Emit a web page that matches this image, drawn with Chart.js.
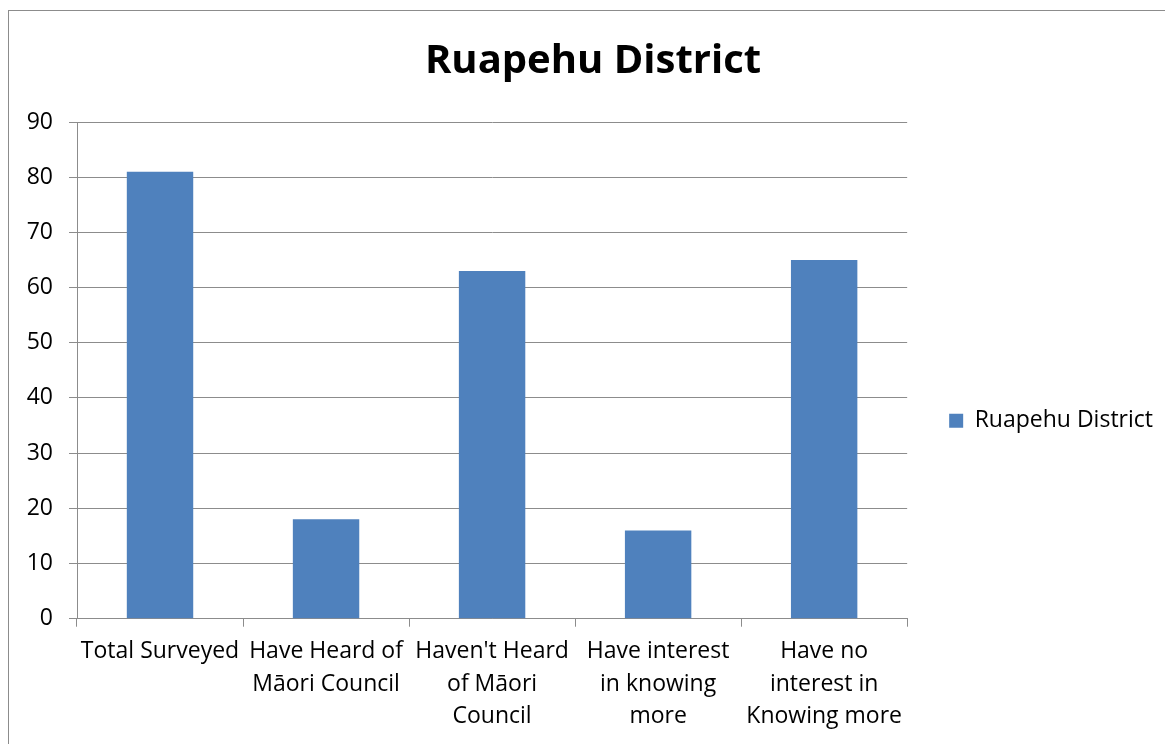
<!DOCTYPE html>
<html>
<head>
<meta charset="utf-8">
<script src="https://cdn.jsdelivr.net/npm/chart.js@4/dist/chart.umd.min.js"></script>
<style>
  html, body { margin: 0; padding: 0; background: #fff; }
  #wrap { position: absolute; left: 0; top: 0; width: 1165px; height: 744px; overflow: hidden; }
  #frame { position: absolute; left: 8px; top: 10px; width: 1200px; height: 800px; border: 1px solid #8c8c8c; box-sizing: border-box; }
  #chart { position: absolute; left: 0; top: 0; }
</style>
</head>
<body>
<div id="wrap">
  <div id="frame"></div>
  <canvas id="chart" width="1180" height="744"></canvas>
</div>
<script>
// datos
const categories = [
    'Total Surveyed',
    ['Have Heard of', 'Māori Council'],
    ["Haven't Heard", 'of Māori', 'Council'],
    ['Have interest', 'in knowing', 'more'],
    ['Have no', 'interest in', 'Knowing more']
];
const seriesName = 'Ruapehu District';
const seriesValues = [81, 18, 63, 16, 65];
const yTicks = [0, 10, 20, 30, 40, 50, 60, 70, 80, 90];

const fontFamily = '"Open Sans", "Liberation Sans", sans-serif';
const gridColor = '#8c8c8c';

const ctx = document.getElementById('chart').getContext('2d');
new Chart(ctx, {
    type: 'bar',
    data: {
        labels: categories,
        datasets: [{
            label: seriesName,
            data: seriesValues,
            backgroundColor: '#4F81BD',
            borderWidth: 0,
            categoryPercentage: 0.8,
            barPercentage: 0.5
        }]
    },
    options: {
        responsive: false,
        animation: false,
        layout: { padding: { left: 23, right: 17, top: 14, bottom: 2 } },
        plugins: {
            title: {
                display: true,
                text: 'Ruapehu District',
                color: '#000',
                font: { family: fontFamily, size: 40, weight: 'bold' },
                padding: { top: 24, bottom: 36 }
            },
            legend: {
                position: 'right',
                maxWidth: 400,
                // título vacío para bajar la leyenda
                title: { display: true, text: '', padding: { top: 71, bottom: 0 } },
                labels: {
                    color: '#000',
                    font: { family: fontFamily, size: 23 },
                    boxWidth: 14,
                    boxHeight: 14,
                    padding: 2
                }
            },
            tooltip: { enabled: false }
        },
        scales: {
            y: {
                min: 0,
                max: 90,
                afterBuildTicks: axis => { axis.ticks = yTicks.map(v => ({ value: v })); },
                afterFit: scale => { scale.width = 54; },
                ticks: {
                    color: '#000',
                    font: { family: fontFamily, size: 23 },
                    padding: 16
                },
                grid: { color: gridColor, lineWidth: 1, tickLength: 8 },
                border: { color: gridColor, width: 1 }
            },
            x: {
                ticks: {
                    color: '#000',
                    font: { family: fontFamily, size: 23, lineHeight: 1.41 },
                    maxRotation: 0,
                    autoSkip: false,
                    padding: 9
                },
                grid: { drawOnChartArea: false, color: gridColor, tickLength: 8 },
                border: { color: gridColor, width: 1 }
            },
            // eje vacío, solo deja espacio entre el gráfico y la leyenda
            spacer: {
                type: 'linear',
                position: 'right',
                ticks: { display: false },
                grid: { display: false },
                border: { display: false },
                afterFit: scale => { scale.width = 40; }
            }
        }
    }
});
</script>
</body>
</html>
